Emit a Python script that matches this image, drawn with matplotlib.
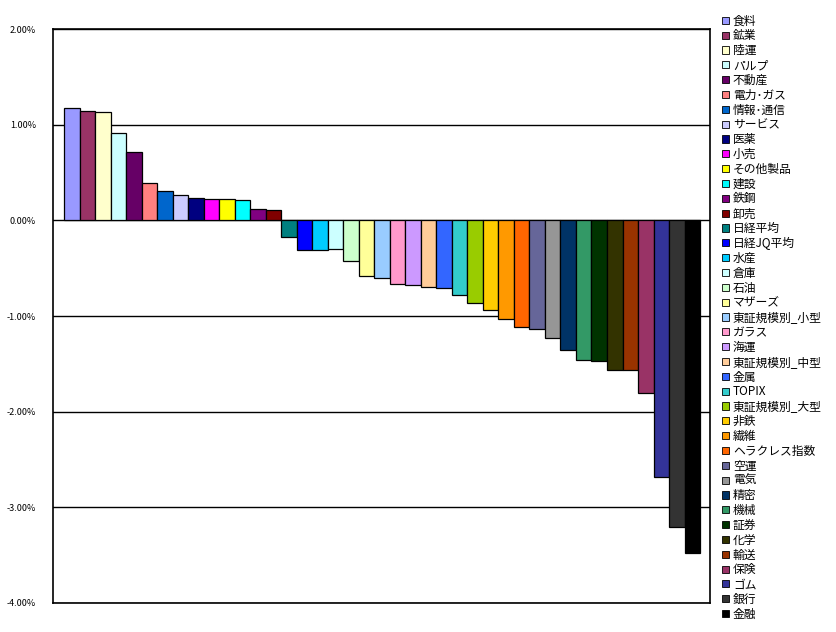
import matplotlib.pyplot as plt
from matplotlib.patches import Patch
from matplotlib.ticker import FuncFormatter

plt.rcParams['font.family'] = ['Noto Sans CJK JP', 'DejaVu Sans']

sectors = ['食料', '鉱業', '陸運', 'パルプ', '不動産', '電力･ガス', '情報･通信', 'サービス',
           '医薬', '小売', 'その他製品', '建設', '鉄鋼', '卸売', '日経平均', '日経JQ平均',
           '水産', '倉庫', '石油', 'マザーズ', '東証規模別_小型', 'ガラス', '海運',
           '東証規模別_中型', '金属', 'TOPIX', '東証規模別_大型', '非鉄', '繊維',
           'ヘラクレス指数', '空運', '電気', '精密', '機械', '証券', '化学', '輸送',
           '保険', 'ゴム', '銀行', '金融']

# daily change in %
changes = [1.18, 1.15, 1.14, 0.91, 0.72, 0.39, 0.31, 0.27, 0.23, 0.22, 0.22, 0.21,
           0.12, 0.11, -0.17, -0.31, -0.31, -0.30, -0.42, -0.58, -0.60, -0.66, -0.68,
           -0.70, -0.71, -0.78, -0.86, -0.94, -1.03, -1.12, -1.14, -1.23, -1.36,
           -1.46, -1.47, -1.56, -1.56, -1.81, -2.68, -3.21, -3.48]

colors = ['#9999FF', '#993366', '#FFFFCC', '#CCFFFF', '#660066', '#FF8080', '#0066CC',
          '#CCCCFF', '#000080', '#FF00FF', '#FFFF00', '#00FFFF', '#800080', '#800000',
          '#008080', '#0000FF', '#00CCFF', '#CCFFFF', '#CCFFCC', '#FFFF99', '#99CCFF',
          '#FF99CC', '#CC99FF', '#FFCC99', '#3366FF', '#33CCCC', '#99CC00', '#FFCC00',
          '#FF9900', '#FF6600', '#666699', '#969696', '#003366', '#339966', '#003300',
          '#333300', '#993300', '#993366', '#333399', '#333333', '#000000']

fig = plt.figure(figsize=(8.36, 6.32), dpi=100)
ax = fig.add_axes([0.063, 0.0464, 0.7866, 0.9072])

x = list(range(len(changes)))
ax.bar(x, changes, width=1.0, color=colors, edgecolor='black', linewidth=0.9, zorder=3)

ax.set_ylim(-4, 2)
ax.set_xlim(-1.25, 41.16)
ax.set_yticks([2, 1, 0, -1, -2, -3, -4])
ax.yaxis.set_major_formatter(FuncFormatter(lambda v, p: '%.2f%%' % v))
ax.tick_params(axis='y', length=0, pad=12, labelsize=6.5)
ax.tick_params(axis='x', bottom=False, labelbottom=False)
ax.grid(axis='y', color='black', linewidth=1.0, zorder=1)
for s in ax.spines.values():
    s.set_linewidth(1.2)

handles = [Patch(facecolor=c, edgecolor='black', linewidth=0.6) for c in colors]
fig.legend(handles, sectors, loc='upper left', bbox_to_anchor=(0.864, 0.977),
           frameon=False, fontsize=8.5, handlelength=0.55, handleheight=0.55,
           handletextpad=0.35, labelspacing=0.155, borderpad=0, borderaxespad=0)

fig.savefig('out.png', dpi=100)
